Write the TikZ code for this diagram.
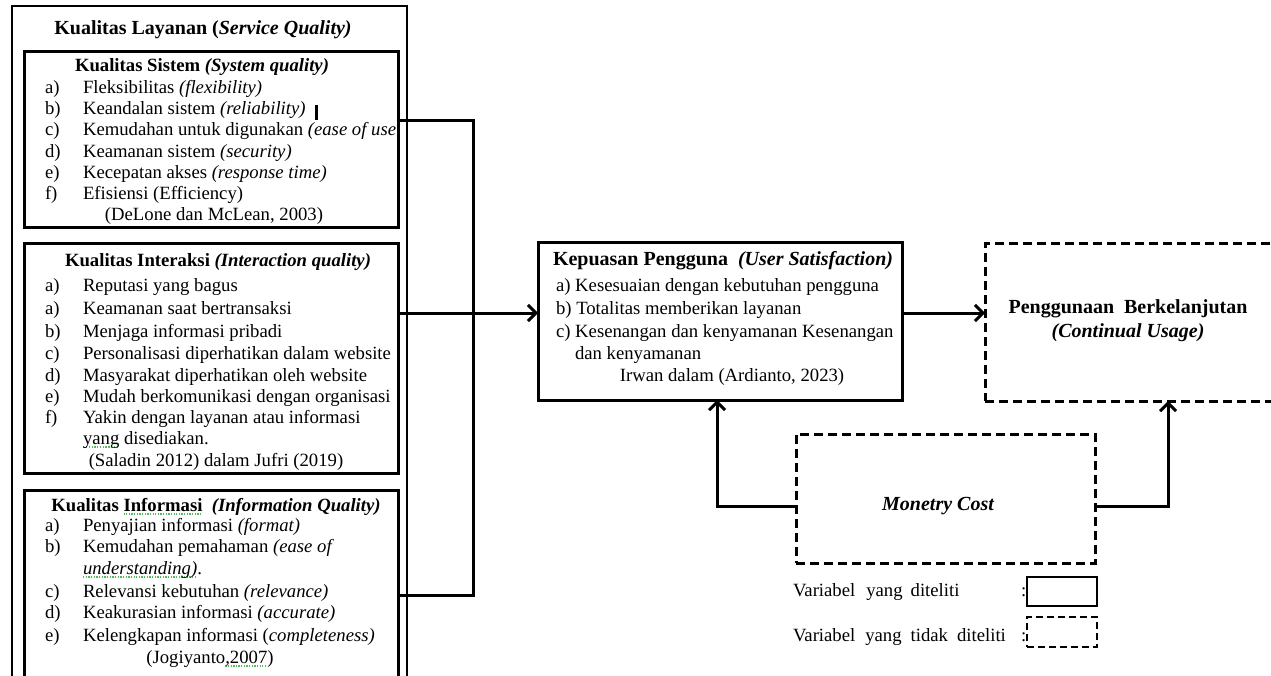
\documentclass[tikz,border=0pt]{standalone}
\usepackage{fontspec}
\setmainfont{Liberation Serif}
\usetikzlibrary{arrows.meta}
\definecolor{sqgreen}{rgb}{0.35,0.72,0.35}
\newcommand\gsq[1]{\setbox0\hbox{#1}\rlap{\raisebox{-3.5pt}{\textcolor{sqgreen}{\hbox to \wd0{\xleaders\hbox{\rule{1.3pt}{1.3pt}\kern1.3pt}\hfill}}}}\copy0\relax}
\newcommand\itm[4]{\node[txt] (#1l) at (45,#2) {#3}; \node[txt] (#1) at (83,#2) {#4};}
\begin{document}
\begin{tikzpicture}[x=1pt,y=-1pt,
  every node/.style={inner sep=0pt, outer sep=0pt},
  txt/.style={font=\fontsize{18.7}{21}\selectfont, text height=12.5pt, text depth=4.5pt, anchor=west},
  ctxt/.style={txt, anchor=center},
  big/.style={font=\fontsize{20}{23}\selectfont\bfseries, text height=14pt, text depth=5pt, anchor=center},
  box/.style={draw, line width=3pt, anchor=north west},
  dbox/.style={box, dash pattern=on 9pt off 5pt},
  conn/.style={line width=3pt, line join=miter},
  arr/.style={conn, -{Straight Barb[length=8pt,width=16pt]}}]
\useasboundingbox (0,0) rectangle (1271,676);
\clip (0,0) rectangle (1271,676);
\fill[white] (0,0) rectangle (1271,676);

% ---------- left column ----------
\node[draw, line width=1.2pt, anchor=north west, minimum width=395pt, minimum height=720pt] (outer) at (12,6) {};
\node[big] (outerT) at (203,30) {Kualitas Layanan (\textit{Service Quality)}};

\node[box, minimum width=374pt, minimum height=176pt] (sys) at (24,52) {};
\node[ctxt] (sysT) at (202,68) {\bfseries Kualitas Sistem \textit{(System quality)}};
\itm{s1}{90}{a)}{Fleksibilitas \textit{(flexibility)}}
\itm{s2}{111}{b)}{Keandalan sistem \textit{(reliability)}}
\itm{s3}{132}{c)}{Kemudahan untuk digunakan \textit{(ease of use}}
\itm{s4}{154}{d)}{Keamanan sistem \textit{(security)}}
\itm{s5}{175}{e)}{Kecepatan akses \textit{(response time)}}
\itm{s6}{196}{f)}{Efisiensi (Efficiency)}
\node[ctxt] (sysC) at (214,217) {(DeLone dan McLean, 2003)};
\fill (314.5,105) rectangle (317.5,120);

\node[box, minimum width=374pt, minimum height=229pt] (inter) at (24,244) {};
\node[ctxt] (interT) at (218,262) {\bfseries Kualitas Interaksi \textit{(Interaction quality)}};
\itm{i1}{287}{a)}{Reputasi yang bagus}
\itm{i2}{310}{a)}{Keamanan saat bertransaksi}
\itm{i3}{333}{b)}{Menjaga informasi pribadi}
\itm{i4}{355}{c)}{Personalisasi diperhatikan dalam website}
\itm{i5}{377}{d)}{Masyarakat diperhatikan oleh website}
\itm{i6}{398}{e)}{Mudah berkomunikasi dengan organisasi}
\itm{i7}{419}{f)}{Yakin dengan layanan atau informasi}
\node[txt] (i8) at (83,440) {\gsq{yang} disediakan.};
\node[ctxt] (interC) at (216,462) {(Saladin 2012) dalam Jufri (2019)};

\node[box, minimum width=374pt, minimum height=240pt] (info) at (24,490) {};
\node[ctxt] (infoT) at (216,507) {\bfseries Kualitas \gsq{Informasi}\ \ \textit{(Information Quality)}};
\itm{f1}{527}{a)}{Penyajian informasi \textit{(format)}}
\itm{f2}{548}{b)}{Kemudahan pemahaman \textit{(ease of}}
\node[txt] (f2b) at (83,570) {\textit{\gsq{understanding)}}.};
\itm{f3}{593}{c)}{Relevansi kebutuhan \textit{(relevance)}}
\itm{f4}{614}{d)}{Keakurasian informasi \textit{(accurate)}}
\itm{f5}{637}{e)}{Kelengkapan informasi (\textit{completeness)}}
\node[ctxt] (infoC) at (210,659) {(Jogiyanto\gsq{,2007})};

% ---------- centre ----------
\node[box, minimum width=364pt, minimum height=157pt] (sat) at (538,243) {};
\node[big, anchor=west] (satT) at (553,261) {Kepuasan Pengguna\ \ \textit{(User Satisfaction)}};
\node[txt] (sat1) at (556,287) {a) Kesesuaian dengan kebutuhan pengguna};
\node[txt] (sat2) at (556,310) {b) Totalitas memberikan layanan};
\node[txt] (sat3) at (556,333) {c) Kesenangan dan kenyamanan Kesenangan};
\node[txt] (sat4) at (575,355) {dan kenyamanan};
\node[ctxt] (satC) at (732,377) {Irwan dalam (Ardianto, 2023)};

% ---------- right ----------
\node[dbox, minimum width=330pt, minimum height=157pt] (cu) at (985,244) {};
\node[big] (cuT) at (1128,309) {Penggunaan\ \ Berkelanjutan};
\node[big] (cuT2) at (1128,333) {\itshape (Continual Usage)};

\node[dbox, minimum width=299pt, minimum height=129pt] (mc) at (796,434) {};
\node[big] (mcT) at (938,506) {\itshape Monetry Cost};

% ---------- legend ----------
\node[txt] (lg1) at (793,592) {Variabel\hspace{11pt}yang\hspace{8pt}diteliti};
\node[txt] (lg1c) at (1021,592) {:};
\node[box, line width=2.5pt, minimum width=70pt, minimum height=29pt] (lgb1) at (1027,577) {};
\node[txt] (lg2) at (793,637) {Variabel\hspace{10pt}yang\hspace{9pt}tidak\hspace{9pt}diteliti};
\node[txt] (lg2c) at (1021,637) {:};
\node[dbox, line width=2.5pt, dash pattern=on 7pt off 4pt, minimum width=70pt, minimum height=30pt] (lgb2) at (1027,617) {};

% ---------- connectors ----------
\coordinate (b1) at (473,121);
\coordinate (b2) at (473,595);
\draw[conn] (sys.east |- b1) -- (b1) -- (b2) -- (info.east |- b2);
\coordinate (m1) at (0,313);
\draw[arr] (inter.east |- m1) -- (sat.west |- m1);
\draw[arr] (sat.east |- m1) -- (cu.west |- m1);
\coordinate (l1) at (717,506);
\coordinate (r1) at (1168,506);
\draw[arr] (mc.west |- l1) -- (l1) -- (l1 |- sat.south);
\draw[arr] (mc.east |- r1) -- (r1) -- (r1 |- cu.south);
\end{tikzpicture}
\end{document}
